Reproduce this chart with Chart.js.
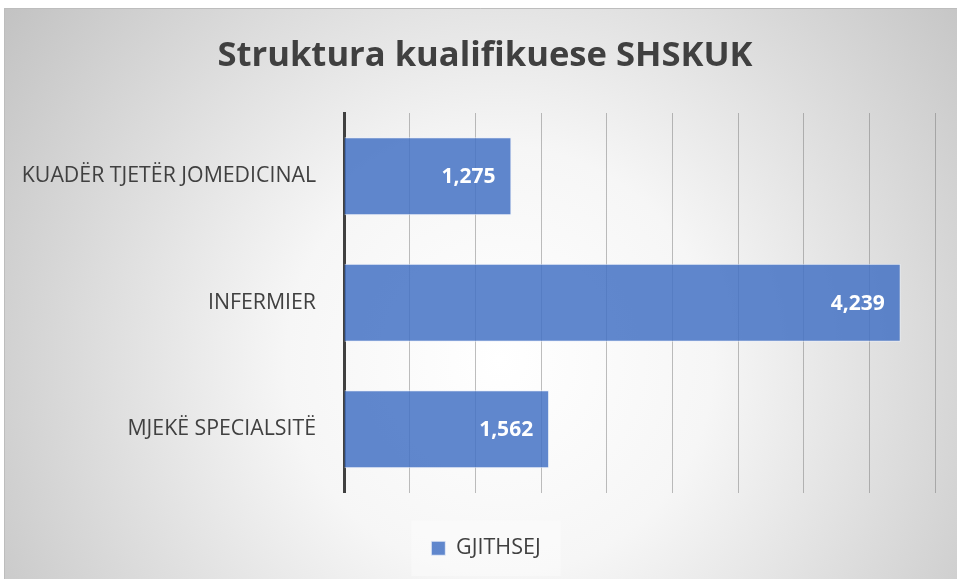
<!DOCTYPE html>
<html>
<head>
<meta charset="utf-8">
<script src="https://cdn.jsdelivr.net/npm/chart.js@4/dist/chart.umd.min.js"></script>
<style>
  html, body { margin: 0; padding: 0; background: #ffffff; }
  #wrap { position: absolute; left: 0; top: 0; width: 957px; height: 579px; }
</style>
</head>
<body>
<div id="wrap"><canvas id="c" width="957" height="579"></canvas></div>
<script>
const titleText = 'Struktura kualifikuese SHSKUK';
const categories = ['KUADËR TJETËR JOMEDICINAL', 'INFERMIER', 'MJEKË SPECIALSITË'];
const seriesName = 'GJITHSEJ';
const seriesValues = [1275, 4239, 1562];
const axisMin = 0;
const axisMax = 4500;
const axisStep = 500;

const FONT = "'Open Sans', 'Noto Sans', sans-serif";
const TEXT = '#404040';

const backgroundPlugin = {
  id: 'panelBackground',
  afterLayout(chart) {
    // centre the legend under the panel rather than the padded area
    const lg = chart.legend;
    if (lg) { lg.left += 16.5; lg.right += 16.5; }
  },
  beforeDraw(chart) {
    const ctx = chart.ctx;
    const W = chart.width, H = chart.height;
    ctx.save();
    ctx.fillStyle = '#ffffff';
    ctx.fillRect(0, 0, W, H);
    const g = ctx.createRadialGradient(500, 360, 0, 500, 360, 610);
    g.addColorStop(0, '#ffffff');
    g.addColorStop(0.35, '#f6f6f6');
    g.addColorStop(1, '#c2c2c2');
    ctx.fillStyle = g;
    ctx.fillRect(4, 8, W - 4, H - 8);
    ctx.strokeStyle = '#bdbdbd';
    ctx.lineWidth = 1;
    ctx.beginPath();
    ctx.moveTo(4.5, H);
    ctx.lineTo(4.5, 8.5);
    ctx.lineTo(W, 8.5);
    ctx.stroke();
    // faint legend backdrop
    const lg = chart.legend;
    if (lg && lg.legendHitBoxes && lg.legendHitBoxes.length) {
      const b = lg.legendHitBoxes[0];
      ctx.fillStyle = 'rgba(255,255,255,0.35)';
      ctx.fillRect(b.left - 20, b.top - 17, b.width + 40, b.height + 34);
    }
    // chart title
    ctx.font = 'bold 34.6px ' + FONT;
    ctx.fillStyle = TEXT;
    ctx.textAlign = 'center';
    ctx.textBaseline = 'middle';
    ctx.fillText(titleText, 485, 56);
    ctx.restore();
  }
};

const valueLabelPlugin = {
  id: 'valueLabels',
  afterDatasetsDraw(chart) {
    const ctx = chart.ctx;
    const meta = chart.getDatasetMeta(0);
    const ds = chart.data.datasets[0];
    ctx.save();
    ctx.font = 'bold 21px ' + FONT;
    ctx.fillStyle = '#ffffff';
    ctx.textAlign = 'right';
    ctx.textBaseline = 'middle';
    meta.data.forEach((el, i) => {
      const v = ds.data[i];
      ctx.fillText(v.toLocaleString('en-US'), el.x - 16, el.y + 1);
    });
    ctx.restore();
  }
};

new Chart(document.getElementById('c'), {
  type: 'bar',
  data: {
    labels: categories,
    datasets: [{
      label: seriesName,
      data: seriesValues,
      backgroundColor: 'rgba(68,114,196,0.85)',
      borderColor: 'rgba(235,240,250,0.8)',
      borderWidth: 1,
      barPercentage: 0.615,
      categoryPercentage: 1.0
    }]
  },
  options: {
    indexAxis: 'y',
    responsive: false,
    animation: false,
    devicePixelRatio: 1,
    layout: { padding: { left: 4, right: 22, top: 113, bottom: 10 } },
    plugins: {
      title: { display: false },
      legend: {
        display: true,
        position: 'bottom',
        labels: {
          color: TEXT,
          font: { family: FONT, size: 21.5 },
          boxWidth: 14,
          boxHeight: 14,
          padding: 10
        }
      },
      tooltip: { enabled: false }
    },
    scales: {
      x: {
        min: axisMin,
        max: axisMax,
        ticks: { display: false, stepSize: axisStep },
        grid: { color: 'rgba(110,110,110,0.45)', lineWidth: 1, drawTicks: false },
        border: { display: false },
        afterFit(s) { s.height = 35; }
      },
      y: {
        ticks: { color: TEXT, font: { family: FONT, size: 21.3 }, padding: 28 },
        grid: { display: false, drawTicks: false },
        border: { display: true, color: '#404040', width: 3 },
        afterFit(s) { s.width = 340; }
      }
    }
  },
  plugins: [backgroundPlugin, valueLabelPlugin]
});
</script>
</body>
</html>
